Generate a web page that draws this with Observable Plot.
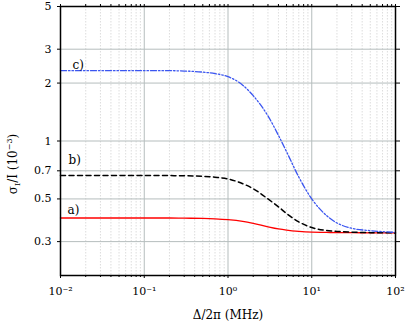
<!DOCTYPE html>
<html><head><meta charset="utf-8">
<script src="https://cdn.jsdelivr.net/npm/d3@7"></script>
<script src="https://cdn.jsdelivr.net/npm/@observablehq/plot@0.6"></script>
<style>body{margin:0;background:#fff}</style></head>
<body><div id="c"></div>
<script>
const freq    = [0.01, 0.1, 0.2, 0.3, 0.5, 0.7, 1, 1.5, 2, 3, 4, 5, 7, 10, 15, 20, 30, 50, 100];
const seriesA = [0.398, 0.398, 0.398, 0.397, 0.396, 0.394, 0.390, 0.382, 0.373, 0.358, 0.349, 0.344, 0.339, 0.336, 0.335, 0.334, 0.334, 0.333, 0.333];
const seriesB = [0.662, 0.662, 0.661, 0.660, 0.655, 0.648, 0.635, 0.600, 0.565, 0.500, 0.455, 0.420, 0.380, 0.355, 0.343, 0.339, 0.336, 0.334, 0.333];
const seriesC = [2.32, 2.32, 2.32, 2.31, 2.28, 2.24, 2.16, 1.95, 1.72, 1.35, 1.07, 0.88, 0.65, 0.50, 0.41, 0.375, 0.352, 0.342, 0.335];
const curveLabels = ["a)", "b)", "c)"];
const xMajor = [0.01, 0.1, 1, 10, 100];
const xTickLabels = ["10⁻²", "10⁻¹", "10⁰", "10¹", "10²"];
const yTicks = [0.3, 0.5, 0.7, 1, 2, 3, 5];
const yTickLabels = ["0.3", "0.5", "0.7", "1", "2", "3", "5"];
const xTitle = "Δ/2π (MHz)";

const xMinor = [0.01, 0.1, 1, 10].flatMap(d => [2,3,4,5,6,7,8,9].map(k => k * d));
const toRows = ys => freq.map((x, i) => ({x, y: ys[i]}));
const xLab = new Map(xMajor.map((d, i) => [d, xTickLabels[i]]));
const yLab = new Map(yTicks.map((d, i) => [d, yTickLabels[i]]));
const font = "DejaVu Serif";

const chart = Plot.plot({
  width: 409, height: 326,
  marginLeft: 60, marginRight: 14, marginTop: 6, marginBottom: 51,
  style: {fontFamily: font, fontSize: "11px", background: "#fff", color: "#000"},
  x: {type: "log", domain: [0.01, 100], label: null},
  y: {type: "log", domain: [0.2, 5], label: null},
  marks: [
    Plot.ruleX(xMinor, {stroke: "#d4d4d4", strokeDasharray: "1.5,1.5", strokeWidth: 0.8}),
    Plot.ruleX(xMajor, {stroke: "#b5bdbd", strokeWidth: 1}),
    Plot.ruleY(yTicks, {stroke: "#b5bdbd", strokeWidth: 1}),
    Plot.line(toRows(seriesA), {x: "x", y: "y", stroke: "#ff0000", strokeWidth: 1.3, curve: "monotone-x"}),
    Plot.line(toRows(seriesB), {x: "x", y: "y", stroke: "#000", strokeWidth: 1.5, strokeDasharray: "5,3.5", curve: "monotone-x"}),
    Plot.line(toRows(seriesC), {x: "x", y: "y", stroke: "#3a55f0", strokeWidth: 1.3, strokeDasharray: "6,2,1.5,2,1.5,2", curve: "monotone-x"}),
    Plot.text([curveLabels[0]], {x: freq[0], y: seriesA[0], text: d => d, textAnchor: "start", dx: 7, dy: -8, fontSize: 12}),
    Plot.text([curveLabels[1]], {x: freq[0], y: seriesB[0], text: d => d, textAnchor: "start", dx: 8, dy: -15, fontSize: 12}),
    Plot.text([curveLabels[2]], {x: freq[0], y: seriesC[0], text: d => d, textAnchor: "start", dx: 12, dy: -6, fontSize: 12}),
    Plot.axisX({ticks: xMajor, tickSize: 3, tickPadding: 9, tickFormat: d => xLab.get(d), fontSize: 11, label: null}),
    Plot.axisX({ticks: xMinor, tickSize: 2, tickFormat: () => "", label: null}),
    Plot.axisX({ticks: [...xMajor, ...xMinor], anchor: "top", tickSize: 3, tickFormat: () => "", label: null}),
    Plot.axisY({ticks: yTicks, tickSize: 3, tickPadding: 6, tickFormat: d => yLab.get(d), fontSize: 11, label: null}),
    Plot.axisY({ticks: yTicks, anchor: "right", tickSize: 4, tickFormat: () => "", label: null}),
    Plot.frame({stroke: "#000", strokeWidth: 1.5})
  ]
});

const svg = d3.select(chart);
svg.append("text")
  .attr("x", 228).attr("y", 319)
  .attr("text-anchor", "middle")
  .attr("font-family", font).attr("font-size", 12)
  .text(xTitle);
const yl = svg.append("text")
  .attr("transform", "translate(17,164) rotate(-90)")
  .attr("text-anchor", "middle")
  .attr("font-family", font).attr("font-size", 12);
yl.append("tspan").text("σ");
yl.append("tspan").attr("font-size", 8).attr("dy", 3).text("I");
yl.append("tspan").attr("dy", -3).text("/I (10");
yl.append("tspan").attr("font-size", 8).attr("dy", -5).text("−3");
yl.append("tspan").attr("dy", 5).text(")");

document.getElementById("c").append(chart);
</script>
</body></html>
